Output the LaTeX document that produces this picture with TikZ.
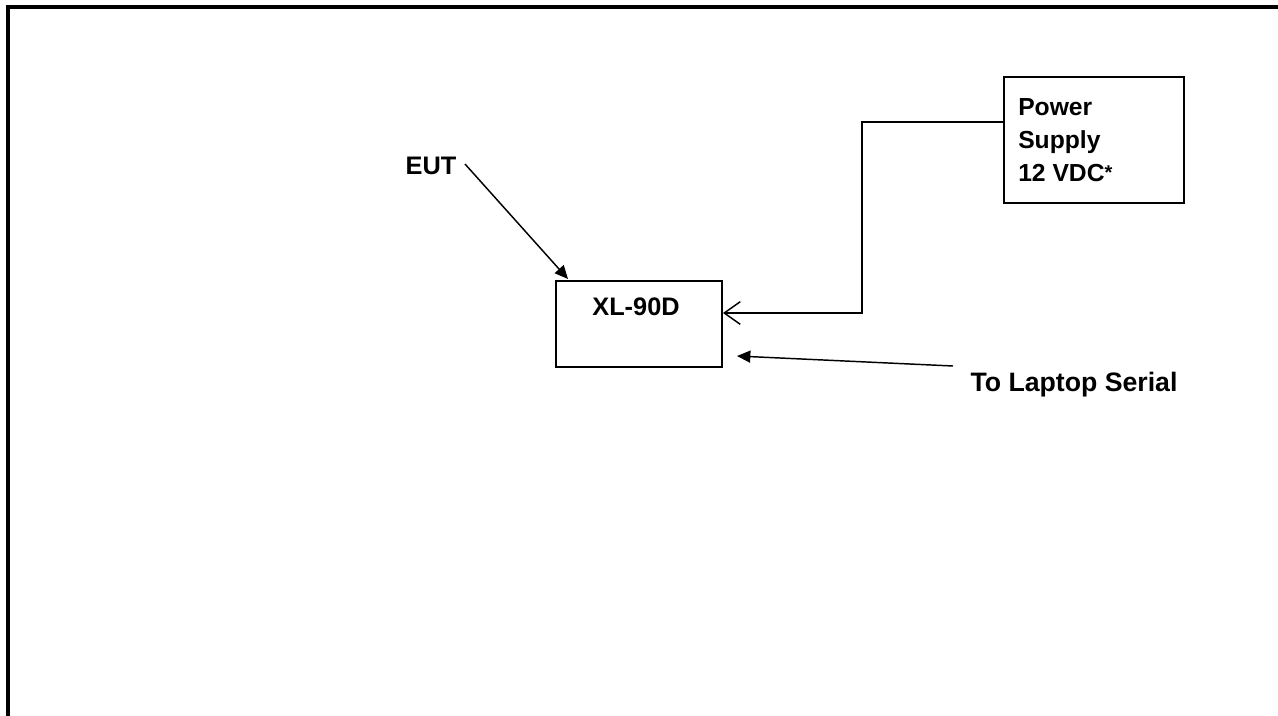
\documentclass[tikz,border=0pt]{standalone}
\usepackage{fontspec}
\setmainfont{Liberation Sans}
\usetikzlibrary{arrows.meta}
\begin{document}
\begin{tikzpicture}[x=0.75pt,y=-0.75pt,
  frameline/.style={line width=3pt},
  boxstyle/.style={draw,line width=1.5pt,inner sep=0pt},
  wire/.style={line width=1.1pt},
  label/.style={font=\fontsize{19}{22}\selectfont\bfseries, inner sep=0pt, anchor=base},
  pslabel/.style={font=\fontsize{18.5}{22}\selectfont\bfseries, inner sep=0pt, anchor=base west},
  filledtip/.style={-{Triangle[length=10pt,width=9pt]}},
  opentip/.style={-{Straight Barb[length=12pt,width=17pt,line width=1.1pt]}}]
\useasboundingbox (0,0) rectangle (1278,715);
% outer frame
\draw[frameline] (8,717) -- (8,7) -- (1280,7);
% boxes
\node[boxstyle, minimum width=135pt, minimum height=94.5pt] (ps) at (1094,140) {};
\node[boxstyle, minimum width=124.5pt, minimum height=64.5pt] (xlbox) at (639,324) {};
% texts
\node[pslabel] (ps1) at (1018,115) {Power};
\node[pslabel] (ps2) at (1018,148) {Supply};
\node[pslabel] (ps3) at (1018,181) {12 VDC\raisebox{1pt}{\fontsize{15}{15}\selectfont *}};
\node[label] (xl) at (636,315) {XL-90D};
\node[label] (eut) at (431,174) {EUT};
\node[label, font=\fontsize{20}{22}\selectfont\bfseries] (lap) at (1074,391) {To Laptop Serial};
\coordinate (eutS) at (465,164);
\coordinate (eutT) at (568,279);
\coordinate (lapS) at (953,366);
\coordinate (lapT) at (737,356);
% connectors
\draw[wire, opentip] (ps.west |- 0,122) -- (862,122) -- (862,313) -- (xlbox.east |- 0,313);
\draw[wire, filledtip] (eutS) -- (eutT);
\draw[wire, filledtip] (lapS) -- (lapT);
\end{tikzpicture}
\end{document}
